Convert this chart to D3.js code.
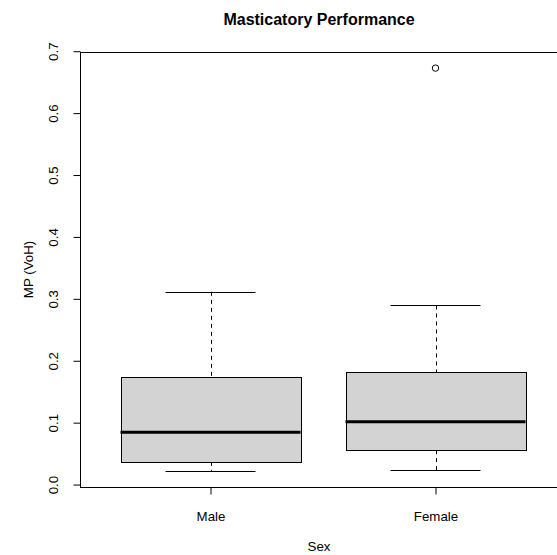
<!DOCTYPE html>
<html>
<head>
<meta charset="utf-8">
<script src="https://cdn.jsdelivr.net/npm/d3@7"></script>
<style>
  html, body { margin: 0; padding: 0; background: #fff; overflow: hidden; }
  svg { display: block; font-family: "Liberation Sans", Arial, sans-serif; }
</style>
</head>
<body>
<div id="chart"></div>
<script>
// Boxplot — Masticatory Performance by Sex (R base style)
const groups = ["Male", "Female"];
const lowWhisker = [0.0221, 0.0233];
const q1 = [0.0367, 0.0556];
const medians = [0.0847, 0.1013];
const q3 = [0.1735, 0.1811];
const highWhisker = [0.3113, 0.2893];
const outliers = [[], [0.6727]];
const yTicks = [0, 0.1, 0.2, 0.3, 0.4, 0.5, 0.6, 0.7];

const width = 557, height = 555;
const plot = {left: 80, right: 566, top: 52, bottom: 487};

const svg = d3.select("#chart").append("svg")
  .attr("width", width)
  .attr("height", height);

// R style: x range 0.5..n+0.5, expanded 4%
const x = d3.scaleLinear()
  .domain([0.5 - 0.04 * groups.length, groups.length + 0.5 + 0.04 * groups.length])
  .range([plot.left, plot.right]);

const allVals = lowWhisker.concat(highWhisker, outliers.flat());
const yMin = d3.min(allVals), yMax = d3.max(allVals);
const pad = (yMax - yMin) * 0.04;
const y = d3.scaleLinear()
  .domain([yMin - pad, yMax + pad])
  .range([plot.bottom, plot.top]);

const crisp = v => Math.round(v) + 0.5;

// boxes
const boxes = svg.append("g");
groups.forEach((gname, i) => {
  const cx = x(i + 1);
  const hw = (x(1.4) - x(1));      // box half-width 0.4
  const cw = hw / 2;               // staple half-width
  const g = boxes.append("g");

  // whiskers (dashed)
  g.append("line")
    .attr("x1", crisp(cx)).attr("x2", crisp(cx))
    .attr("y1", y(highWhisker[i])).attr("y2", y(q3[i]))
    .attr("stroke", "#000").attr("stroke-dasharray", "4,4");
  g.append("line")
    .attr("x1", crisp(cx)).attr("x2", crisp(cx))
    .attr("y1", y(q1[i])).attr("y2", y(lowWhisker[i]))
    .attr("stroke", "#000").attr("stroke-dasharray", "4,4");

  // staples
  [highWhisker[i], lowWhisker[i]].forEach(v => {
    g.append("line")
      .attr("x1", cx - cw).attr("x2", cx + cw)
      .attr("y1", crisp(y(v))).attr("y2", crisp(y(v)))
      .attr("stroke", "#000");
  });

  // box
  g.append("rect")
    .attr("x", crisp(cx - hw))
    .attr("y", crisp(y(q3[i])))
    .attr("width", Math.round(2 * hw))
    .attr("height", Math.round(y(q1[i]) - y(q3[i])))
    .attr("fill", "#d3d3d3")
    .attr("stroke", "#000");

  // median
  g.append("line")
    .attr("x1", cx - hw).attr("x2", cx + hw)
    .attr("y1", y(medians[i])).attr("y2", y(medians[i]))
    .attr("stroke", "#000").attr("stroke-width", 3);

  // outliers
  g.selectAll("circle")
    .data(outliers[i])
    .join("circle")
    .attr("cx", cx)
    .attr("cy", d => y(d))
    .attr("r", 3.2)
    .attr("fill", "none")
    .attr("stroke", "#000");
});

// frame
svg.append("rect")
  .attr("x", plot.left + 0.5)
  .attr("y", plot.top + 0.5)
  .attr("width", plot.right - plot.left)
  .attr("height", plot.bottom - plot.top)
  .attr("fill", "none")
  .attr("stroke", "#000");

// y axis
const yAxis = svg.append("g")
  .attr("transform", `translate(${plot.left + 0.5},0)`)
  .call(d3.axisLeft(y).tickValues(yTicks).tickFormat(d3.format(".1f")).tickSizeOuter(0).tickSize(7).tickPadding(0));
yAxis.select(".domain").remove();
yAxis.selectAll(".tick line").attr("stroke", "#000");
yAxis.selectAll(".tick text")
  .attr("transform", "rotate(-90)")
  .attr("x", 0)
  .attr("y", -23)
  .attr("dy", 0)
  .attr("text-anchor", "middle")
  .attr("fill", "#000")
  .style("font-size", "13.3px");

// x axis
const xAxis = svg.append("g")
  .attr("transform", `translate(0,${plot.bottom + 0.5})`)
  .call(d3.axisBottom(x).tickValues(groups.map((d, i) => i + 1)).tickFormat((d, i) => groups[i]).tickSize(7).tickSizeOuter(0).tickPadding(0));
xAxis.select(".domain").remove();
xAxis.selectAll(".tick line").attr("stroke", "#000");
xAxis.selectAll(".tick text")
  .attr("y", 33)
  .attr("dy", 0)
  .attr("fill", "#000")
  .style("font-size", "13.3px");

// labels
const cxPlot = (plot.left + plot.right) / 2;
svg.append("text")
  .attr("x", cxPlot - 4)
  .attr("y", 25)
  .attr("text-anchor", "middle")
  .style("font-size", "16px")
  .style("font-weight", "bold")
  .text("Masticatory Performance");

svg.append("text")
  .attr("x", cxPlot - 4)
  .attr("y", 551)
  .attr("text-anchor", "middle")
  .style("font-size", "13.3px")
  .text("Sex");

svg.append("text")
  .attr("transform", `translate(33,${(plot.top + plot.bottom) / 2}) rotate(-90)`)
  .attr("text-anchor", "middle")
  .style("font-size", "13.3px")
  .text("MP (VoH)");
</script>
</body>
</html>
